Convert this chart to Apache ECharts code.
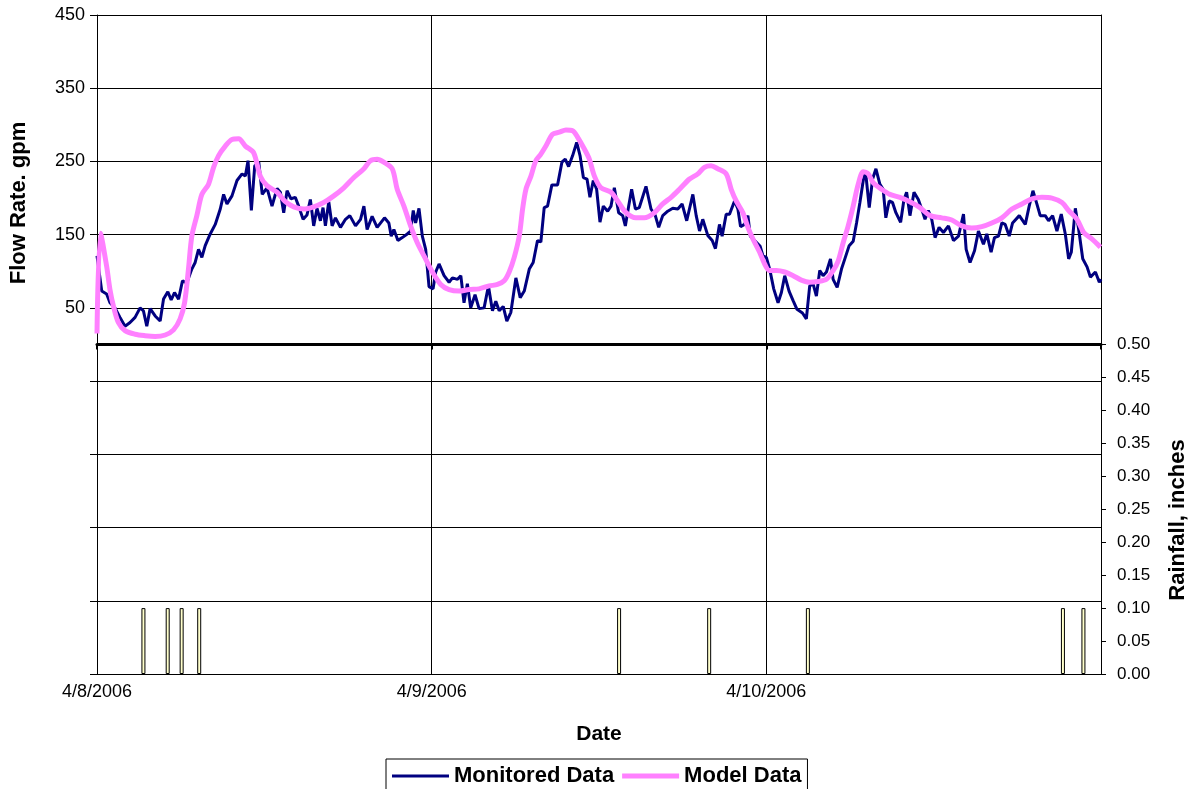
<!DOCTYPE html>
<html><head><meta charset="utf-8">
<script src="https://cdn.jsdelivr.net/npm/echarts@6/dist/echarts.min.js"></script>
<style>html,body{margin:0;padding:0;background:#fff}#c{width:1192px;height:789px}</style>
</head><body><div id="c"></div>
<script>
// ---- data (hours after 4/8/2006 00:00) ----
const dateLabels = ['4/8/2006', '4/9/2006', '4/10/2006', ''];
const flowTickValues = [-450, -350, -250, -150, -50, 50, 150, 250, 350, 450];
const flowLabelValues = [50, 150, 250, 350, 450];
const rainTickValues = [0, 0.05, 0.10, 0.15, 0.20, 0.25, 0.30, 0.35, 0.40, 0.45, 0.50];

const monHours = [0,0.34,0.69,0.93,1.29,1.65,2.01,2.37,2.73,3.09,3.33,3.57,3.81,4.17,4.53,4.77,5.08,5.32,5.56,5.85,6.13,6.44,6.8,7.04,7.28,7.52,7.76,8.12,8.48,8.84,9.08,9.32,9.68,10.04,10.4,10.64,10.83,11.07,11.31,11.6,11.85,12.19,12.55,12.91,13.15,13.39,13.63,13.91,14.22,14.46,14.78,15.06,15.3,15.54,15.78,16.02,16.21,16.38,16.62,16.86,17.1,17.46,17.82,18.13,18.54,18.9,19.14,19.37,19.73,20.09,20.62,20.93,21.1,21.29,21.58,21.89,22.25,22.49,22.68,22.85,23.09,23.33,23.57,23.81,24.1,24.29,24.53,24.89,25.25,25.49,25.85,26.09,26.32,26.56,26.8,27.11,27.4,27.76,28.07,28.36,28.6,28.84,29.13,29.39,29.68,30.04,30.35,30.64,31.0,31.28,31.59,31.83,32.07,32.31,32.62,33.03,33.34,33.58,33.82,34.11,34.4,34.64,34.88,35.14,35.35,35.59,35.83,36.07,36.31,36.62,36.86,37.1,37.41,37.7,37.89,38.13,38.34,38.61,38.89,39.37,39.73,40.04,40.28,40.57,40.93,41.29,41.65,41.96,42.29,42.73,42.97,43.21,43.44,43.8,44.12,44.35,44.64,44.83,45.12,45.36,45.72,45.96,46.15,46.44,46.68,46.85,47.16,47.56,47.76,48.0,48.24,48.53,48.84,49.08,49.32,49.63,49.92,50.2,50.59,50.87,51.11,51.35,51.59,51.83,52.07,52.31,52.6,52.79,53.08,53.39,53.7,53.94,54.23,54.47,54.71,54.95,55.11,55.38,55.62,55.86,56.14,56.38,56.57,56.81,57.05,57.29,57.63,57.87,58.06,58.3,58.59,58.9,59.14,59.38,59.62,59.86,60.1,60.39,60.7,61.06,61.42,61.78,62.14,62.33,62.61,62.93,63.21,63.57,63.81,64.12,64.36,64.65,64.89,65.13,65.42,65.66,66.14,66.57,66.85,67.12,67.4,67.64,68.0,68.24,68.53,68.84,69.15,69.44,69.68,69.87,70.16,70.4,70.69,71.0,71.24,71.6,71.88,72];
const monFlow = [121,73,69,57,50,37,25,30,37,50,46,25,49,39,32,62,72,61,71,62,87,84,103,112,130,119,135,151,164,185,205,192,203,224,233,230,251,183,244,249,205,214,189,213,208,180,210,199,201,189,171,177,198,162,186,169,187,162,195,162,173,160,171,176,162,171,189,157,175,160,173,166,148,157,142,146,151,155,183,166,186,148,130,79,76,99,110,94,85,91,89,94,57,83,50,68,49,50,80,46,59,46,52,32,44,91,64,73,103,112,142,140,187,189,218,218,249,253,243,258,276,258,228,226,201,224,212,167,189,182,189,214,180,176,162,189,212,185,187,216,185,176,160,176,182,186,185,192,169,205,176,155,171,149,142,131,164,148,178,178,196,185,161,164,176,148,142,134,121,119,103,76,57,71,94,73,60,48,43,35,80,83,66,101,94,99,117,89,78,103,121,135,141,166,194,224,237,187,226,240,219,212,173,196,194,180,167,198,208,176,208,198,185,171,183,171,146,160,153,162,142,148,178,130,112,128,155,137,151,126,146,148,166,164,148,166,176,164,189,210,192,176,176,169,176,155,178,151,117,126,186,157,117,106,92,99,85,89];

const modHours = [0,0.25,0.69,0.93,1.17,1.53,2.01,2.73,3.45,4.17,4.89,5.49,5.96,6.28,6.56,6.8,7.16,7.52,8.0,8.36,8.72,9.2,9.68,10.16,10.64,11.23,11.71,12.19,12.91,13.51,14.11,14.82,15.54,16.26,16.98,17.7,18.42,19.14,19.61,20.09,20.57,21.17,21.53,22.01,22.49,22.97,23.45,24.05,24.65,25.25,25.97,26.68,27.4,28.12,28.72,29.2,29.56,29.92,30.28,30.52,30.76,31.12,31.47,31.83,32.19,32.67,33.15,33.63,34.11,34.47,34.95,35.31,35.67,36.14,36.86,37.34,37.94,38.65,39.25,39.97,40.57,41.17,41.77,42.49,43.09,43.56,44.04,44.52,45.12,45.48,45.84,46.32,46.68,47.04,47.52,47.88,48.23,48.72,49.32,49.92,50.51,51.11,51.71,52.31,52.79,53.15,53.51,53.87,54.23,54.59,54.95,55.31,55.66,56.26,56.86,57.58,58.3,59.02,59.74,60.58,61.3,62.02,62.73,63.45,64.17,64.89,65.61,66.33,67.05,67.76,68.48,69.2,69.68,70.28,70.76,71.36,71.96];
const modFlow = [15,152,107,75,53,30,19,14,12,11,13,20,35,57,103,148,176,205,219,242,258,271,280,281,271,262,230,217,208,195,188,185,188,194,203,214,228,240,251,253,249,240,212,189,162,139,121,99,82,75,73,75,76,80,82,87,99,119,148,185,212,230,251,260,271,287,290,293,292,283,267,253,230,214,208,196,180,173,173,180,192,201,212,226,233,242,244,240,233,212,196,180,160,144,126,110,101,101,99,94,88,85,86,89,101,114,139,162,189,219,236,233,221,212,205,201,195,187,176,173,170,162,159,161,166,173,185,192,199,201,200,194,183,171,153,144,133];

const rainHours = [3.33, 5.07, 6.07, 7.33, 37.44, 43.9, 50.98, 69.27, 70.74];
const rainInches = [0.1, 0.1, 0.1, 0.1, 0.1, 0.1, 0.1, 0.1, 0.1];

const zip = (a, b) => a.map((v, i) => [v, b[i]]);
const FONT = 'Arial, "Liberation Sans", sans-serif';

const chart = echarts.init(document.getElementById('c'), null, { renderer: 'canvas' });
chart.setOption({
  animation: false,
  backgroundColor: '#fff',
  textStyle: { fontFamily: FONT, color: '#000' },
  grid: { left: 97, right: 91, top: 15, bottom: 115, containLabel: false, outerBoundsMode: 'none' },
  legend: {
    data: [
      { name: 'Monitored Data', icon: 'path://M0,0L57,0L57,3L0,3Z' },
      { name: 'Model Data', icon: 'path://M0,0L57,0L57,5L0,5Z' }
    ],
    left: 386, top: 759,
    orient: 'horizontal',
    borderColor: '#000', borderWidth: 1,
    padding: [6, 6, 8, 6],
    itemWidth: 57, itemHeight: 20, itemGap: 8,
    textStyle: { fontFamily: FONT, fontWeight: 'bold', fontSize: 22, color: '#000' }
  },
  xAxis: [
    {
      type: 'value', min: 0, max: 72, interval: 24, position: 'bottom',
      axisLine: { show: true, onZero: true, onZeroAxisIndex: 0, lineStyle: { color: '#000', width: 3 } },
      axisTick: { show: true, length: 5, lineStyle: { color: '#000', width: 2 } },
      axisLabel: { show: false },
      splitLine: { show: false }, z: 4
    },
    {
      type: 'value', min: 0, max: 72, interval: 24, position: 'bottom',
      axisLine: { show: true, onZero: false, lineStyle: { color: '#000', width: 1 } },
      axisTick: { show: false },
      axisLabel: { formatter: v => dateLabels[Math.round(v / 24)], color: '#000', fontSize: 18, margin: 9, fontFamily: FONT },
      splitLine: { show: true, lineStyle: { color: '#000', width: 1 } },
      name: 'Date', nameLocation: 'middle', nameGap: 50,
      nameTextStyle: { fontFamily: FONT, fontWeight: 'bold', fontSize: 21, color: '#000' }
    }
  ],
  yAxis: [
    {
      type: 'value', min: -450, max: 450, interval: 100, position: 'left',
      axisLine: { show: true, onZero: false, lineStyle: { color: '#000', width: 1 } },
      axisTick: { show: true, length: 7, customValues: flowTickValues, lineStyle: { color: '#000' } },
      axisLabel: { customValues: flowLabelValues, color: '#000', fontSize: 18, margin: 12, fontFamily: FONT },
      splitLine: { show: true, lineStyle: { color: '#000', width: 1 } }
    },
    {
      type: 'value', min: 0, max: 1, interval: 0.05, position: 'right',
      axisLine: { show: true, onZero: false, lineStyle: { color: '#000', width: 1 } },
      axisTick: { show: true, length: 5, customValues: rainTickValues, lineStyle: { color: '#000' } },
      axisLabel: { customValues: rainTickValues, formatter: v => v.toFixed(2), color: '#000', fontSize: 17, margin: 16, fontFamily: FONT },
      splitLine: { show: false }
    }
  ],
  graphic: [
    { type: 'text', x: 19, y: 203, rotation: Math.PI / 2,
      style: { text: 'Flow Rate. gpm', fill: '#000', font: 'bold 22px ' + FONT, align: 'center', verticalAlign: 'middle', textAlign: 'center', textVerticalAlign: 'middle' } },
    { type: 'text', x: 1178, y: 520, rotation: Math.PI / 2,
      style: { text: 'Rainfall, inches', fill: '#000', font: 'bold 22px ' + FONT, align: 'center', verticalAlign: 'middle', textAlign: 'center', textVerticalAlign: 'middle' } }
  ],
  series: [
    {
      name: 'Rainfall', type: 'bar', xAxisIndex: 1, yAxisIndex: 1,
      data: zip(rainHours, rainInches), barWidth: 4,
      itemStyle: { color: '#ffffcc', borderColor: '#000', borderWidth: 1 }, z: 2
    },
    {
      name: 'Monitored Data', type: 'line', xAxisIndex: 1, yAxisIndex: 0,
      data: zip(monHours, monFlow), symbol: 'none', showSymbol: false,
      lineStyle: { color: '#000080', width: 3 }, itemStyle: { color: '#000080' }, z: 3
    },
    {
      name: 'Model Data', type: 'line', xAxisIndex: 1, yAxisIndex: 0,
      data: zip(modHours, modFlow), symbol: 'none', showSymbol: false, smooth: 0.3,
      lineStyle: { color: '#ff80ff', width: 5 }, itemStyle: { color: '#ff80ff' }, z: 4
    }
  ]
});
</script>
</body></html>
